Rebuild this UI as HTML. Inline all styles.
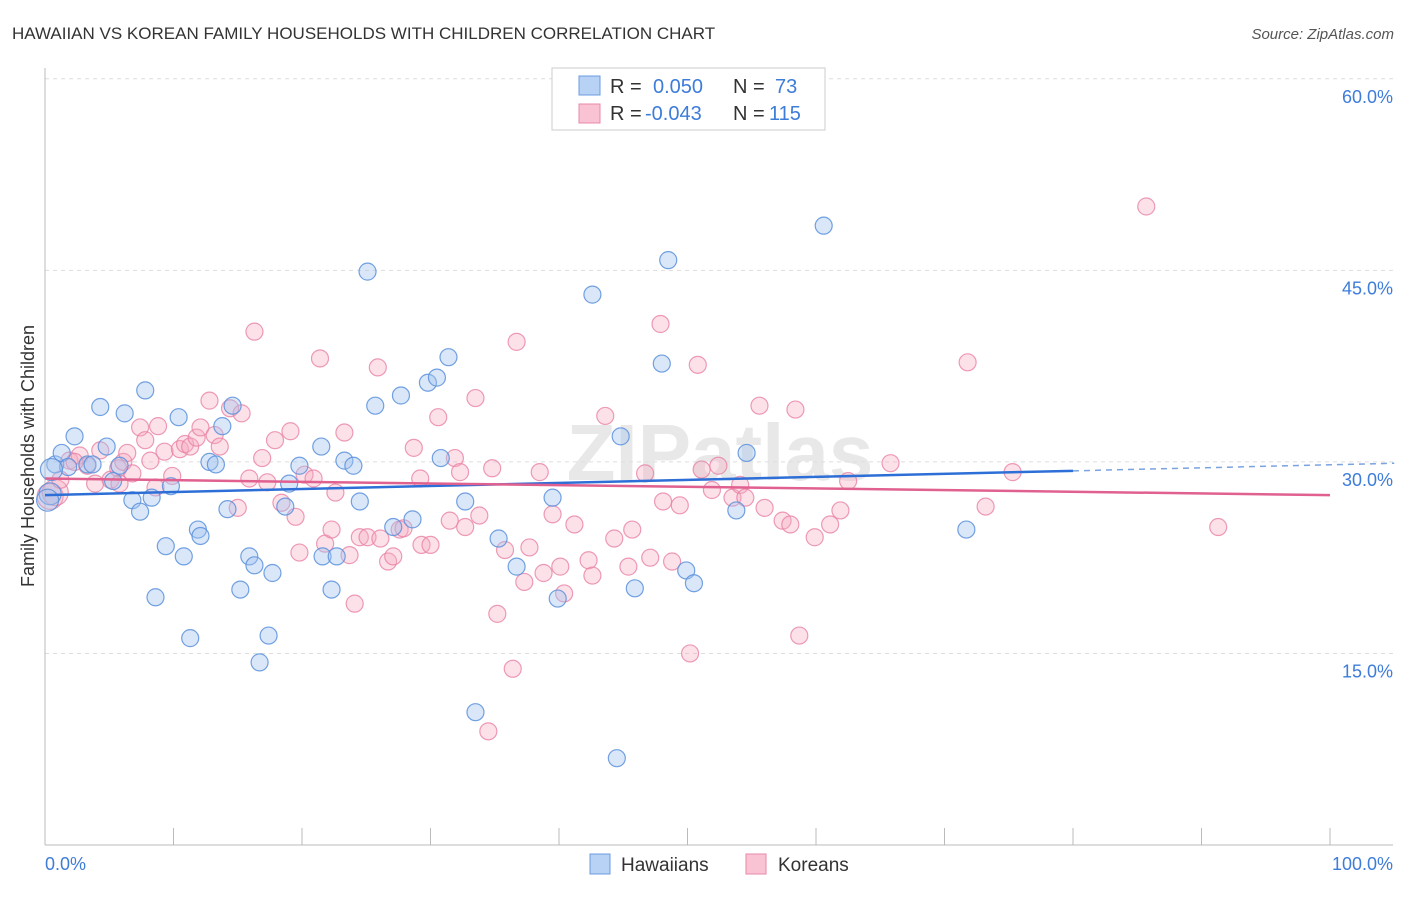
<!DOCTYPE html>
<html><head><meta charset="utf-8"><style>
body{margin:0;background:#fff;font-family:"Liberation Sans",sans-serif;}
svg text{font-family:"Liberation Sans",sans-serif;}
</style></head><body>
<svg width="1406" height="892" viewBox="0 0 1406 892">
<text x="12" y="39" font-size="17" fill="#333">HAWAIIAN VS KOREAN FAMILY HOUSEHOLDS WITH CHILDREN CORRELATION CHART</text>
<text x="1394" y="39" font-size="15" fill="#555" font-style="italic" text-anchor="end">Source: ZipAtlas.com</text>
<text x="720" y="480" font-size="80" fill="#e8e8e8" text-anchor="middle" font-weight="bold">ZIPatlas</text>
<g id="grid"></g>
<g id="axes"></g>
<g id="pts"></g>
<g id="trends"></g>
<text transform="translate(34,456) rotate(-90)" font-size="18" fill="#333" text-anchor="middle">Family Households with Children</text>
<g>
<rect x="552" y="68" width="273" height="62" fill="#fff" stroke="#ccc"/>
<rect x="579" y="76" width="21" height="19" fill="#b7d2f5" stroke="#6a9be0"/>
<rect x="579" y="104" width="21" height="19" fill="#f9c3d3" stroke="#e888a8"/>
<text x="610" y="93" font-size="20" fill="#333">R = </text><text x="653" y="93" font-size="20" fill="#3d7cd9">0.050</text>
<text x="733" y="93" font-size="20" fill="#333">N = </text><text x="775" y="93" font-size="20" fill="#3d7cd9">73</text>
<text x="610" y="120" font-size="20" fill="#333">R = </text><text x="645" y="120" font-size="20" fill="#3d7cd9">-0.043</text>
<text x="733" y="120" font-size="20" fill="#333">N = </text><text x="769" y="120" font-size="20" fill="#3d7cd9">115</text>
</g>
<g><rect x="590" y="854" width="20" height="20" fill="#b7d2f5" stroke="#6a9be0"/><text x="621" y="871" font-size="19" fill="#333">Hawaiians</text></g>
<g><rect x="746" y="854" width="20" height="20" fill="#f9c3d3" stroke="#e888a8"/><text x="778" y="871" font-size="19" fill="#333">Koreans</text></g>
</svg>
<script>
const yTicks=[15,30,45,60];
const yTickLabels=["15.0%","30.0%","45.0%","60.0%"];
const xTicks=[0,10,20,30,40,50,60,70,80,90,100];
const hawX=[0.8,1.3,1.8,2.3,3.3,3.7,4.3,4.8,5.3,5.8,6.2,6.8,7.4,8.3,7.8,8.6,9.4,9.8,10.4,10.8,11.3,11.9,12.1,12.8,13.3,13.8,14.2,14.6,15.2,15.9,16.3,16.7,17.4,17.7,18.7,19.0,19.8,21.5,21.6,22.3,22.7,23.3,24.0,24.5,25.1,25.7,27.1,27.7,28.6,29.8,30.5,30.8,31.4,32.7,33.5,35.3,36.7,39.5,39.9,42.6,44.8,45.9,48.0,48.5,49.9,50.5,53.8,54.6,60.6,71.7,0.4,0.2,0.5,44.5];
const hawY=[29.8,30.7,29.6,32.0,29.8,29.8,34.3,31.2,28.5,29.7,33.8,27.0,26.1,27.2,35.6,19.4,23.4,28.1,33.5,22.6,16.2,24.7,24.2,30.0,29.8,32.8,26.3,34.4,20.0,22.6,21.9,14.3,16.4,21.3,26.5,28.3,29.7,31.2,22.6,20.0,22.6,30.1,29.7,26.9,44.9,34.4,24.9,35.2,25.5,36.2,36.6,30.3,38.2,26.9,10.4,24.0,21.8,27.2,19.3,43.1,32.0,20.1,37.7,45.8,21.5,20.5,26.2,30.7,48.5,24.7,27.5,27.0,29.4,6.8];
const korX=[0.4,0.8,1.2,1.9,2.7,3.3,3.9,4.3,5.1,5.7,6.1,6.4,6.8,7.4,7.8,8.2,8.8,9.3,9.9,10.5,10.9,11.3,11.8,12.1,12.8,13.2,13.6,14.4,15.0,15.3,15.9,16.3,16.9,17.3,17.9,18.4,19.1,19.5,19.8,20.2,20.9,21.4,21.8,22.3,22.6,23.3,23.7,24.1,24.5,25.1,25.9,26.1,26.7,27.1,27.6,27.9,28.7,29.2,29.3,30.0,30.6,31.5,31.9,32.3,32.7,33.5,33.8,34.8,35.2,35.8,36.4,36.7,37.3,37.7,38.5,38.8,39.5,40.1,40.4,41.2,42.3,42.6,43.6,44.3,45.4,45.7,46.7,47.1,47.9,48.1,48.8,49.4,50.2,50.8,51.1,51.9,52.4,53.5,54.1,54.5,55.6,56.0,57.4,58.0,58.4,58.7,59.9,61.1,61.9,62.5,65.8,71.8,73.2,75.3,85.7,91.3,34.5,5.8,8.6,2.3];
const korY=[27.3,27.6,28.6,30.1,30.5,29.7,28.3,30.9,28.6,29.5,30.0,30.7,29.1,32.7,31.7,30.1,32.8,30.8,28.9,31.0,31.4,31.2,31.9,32.7,34.8,32.1,31.2,34.2,26.4,33.8,28.7,40.2,30.3,28.4,31.7,26.8,32.4,25.7,22.9,29.0,28.7,38.1,23.6,24.7,27.6,32.3,22.7,18.9,24.1,24.1,37.4,24.0,22.2,22.6,24.7,24.8,31.1,28.7,23.5,23.5,33.5,25.4,30.3,29.2,24.9,35.0,25.8,29.5,18.1,23.1,13.8,39.4,20.6,23.3,29.2,21.3,25.9,21.8,19.7,25.1,22.3,21.1,33.6,24.0,21.8,24.7,29.1,22.5,40.8,26.9,22.2,26.6,15.0,37.6,29.4,27.8,29.7,27.2,28.2,27.2,34.4,26.4,25.4,25.1,34.1,16.4,24.1,25.1,26.2,28.5,29.9,37.8,26.5,29.2,50.0,24.9,8.9,28.3,28.0,30.0];
const hawTrend=[27.4,29.3,80];   // y at x=0, y at x=80 (solid end)
const korTrend=[28.7,27.4];       // y at x=0, y at x=100
const NS="http://www.w3.org/2000/svg";
function X(v){return 45+v*12.85;}
function Y(v){return 845-v*12.77;}
function mk(tag,attrs,parent){const e=document.createElementNS(NS,tag);for(const k in attrs)e.setAttribute(k,attrs[k]);parent.appendChild(e);return e;}
const grid=document.getElementById('grid'),axes=document.getElementById('axes'),pts=document.getElementById('pts'),tr=document.getElementById('trends');
yTicks.forEach((t,i)=>{
  const l=mk('line',{x1:45,x2:1393,y1:Y(t),y2:Y(t),stroke:'#ddd','stroke-dasharray':'4,4'},grid);
  
  
  const tx=mk('text',{x:1393,y:Y(t)+24,'font-size':18,fill:'#3d7cd9','text-anchor':'end'},grid);
  tx.textContent=yTickLabels[i];
  
  
});
const ya=mk('line',{x1:45,x2:45,y1:68,y2:845,stroke:'#bbb'},axes);


const xa=mk('line',{x1:45,x2:1393,y1:845,y2:845,stroke:'#bbb'},axes);


xTicks.forEach(t=>{
  const l=mk('line',{x1:X(t),x2:X(t),y1:828,y2:845,stroke:'#bbb'},axes);
  
  
});
const xl0=mk('text',{x:45,y:870,'font-size':18,fill:'#3d7cd9'},axes);xl0.textContent='0.0%';


const xl1=mk('text',{x:1393,y:870,'font-size':18,fill:'#3d7cd9','text-anchor':'end'},axes);xl1.textContent='100.0%';


korX.forEach((x,i)=>{
  const c=mk('circle',{cx:X(x),cy:Y(korY[i]),r:x<1?13:8.5,fill:'rgba(246,168,193,0.35)',stroke:'rgba(232,130,165,0.8)','stroke-width':1.2},pts);
  
  
});
hawX.forEach((x,i)=>{
  const c=mk('circle',{cx:X(x),cy:Y(hawY[i]),r:x<0.6?11:8.5,fill:'rgba(160,196,240,0.4)',stroke:'rgba(90,145,220,0.85)','stroke-width':1.2},pts);
  
  
});
const slope=(hawTrend[1]-hawTrend[0])/hawTrend[2];
const hb=mk('line',{x1:X(0),y1:Y(hawTrend[0]),x2:X(hawTrend[2]),y2:Y(hawTrend[1]),stroke:'#2d6fd6','stroke-width':2.5},tr);


const hd=mk('line',{x1:X(hawTrend[2]),y1:Y(hawTrend[1]),x2:X(105),y2:Y(hawTrend[0]+slope*105),stroke:'#7aa3e0','stroke-width':1.5,'stroke-dasharray':'6,5'},tr);


const kl=mk('line',{x1:X(0),y1:Y(korTrend[0]),x2:X(100),y2:Y(korTrend[1]),stroke:'#e0608f','stroke-width':2.5},tr);


</script>
</body></html>
